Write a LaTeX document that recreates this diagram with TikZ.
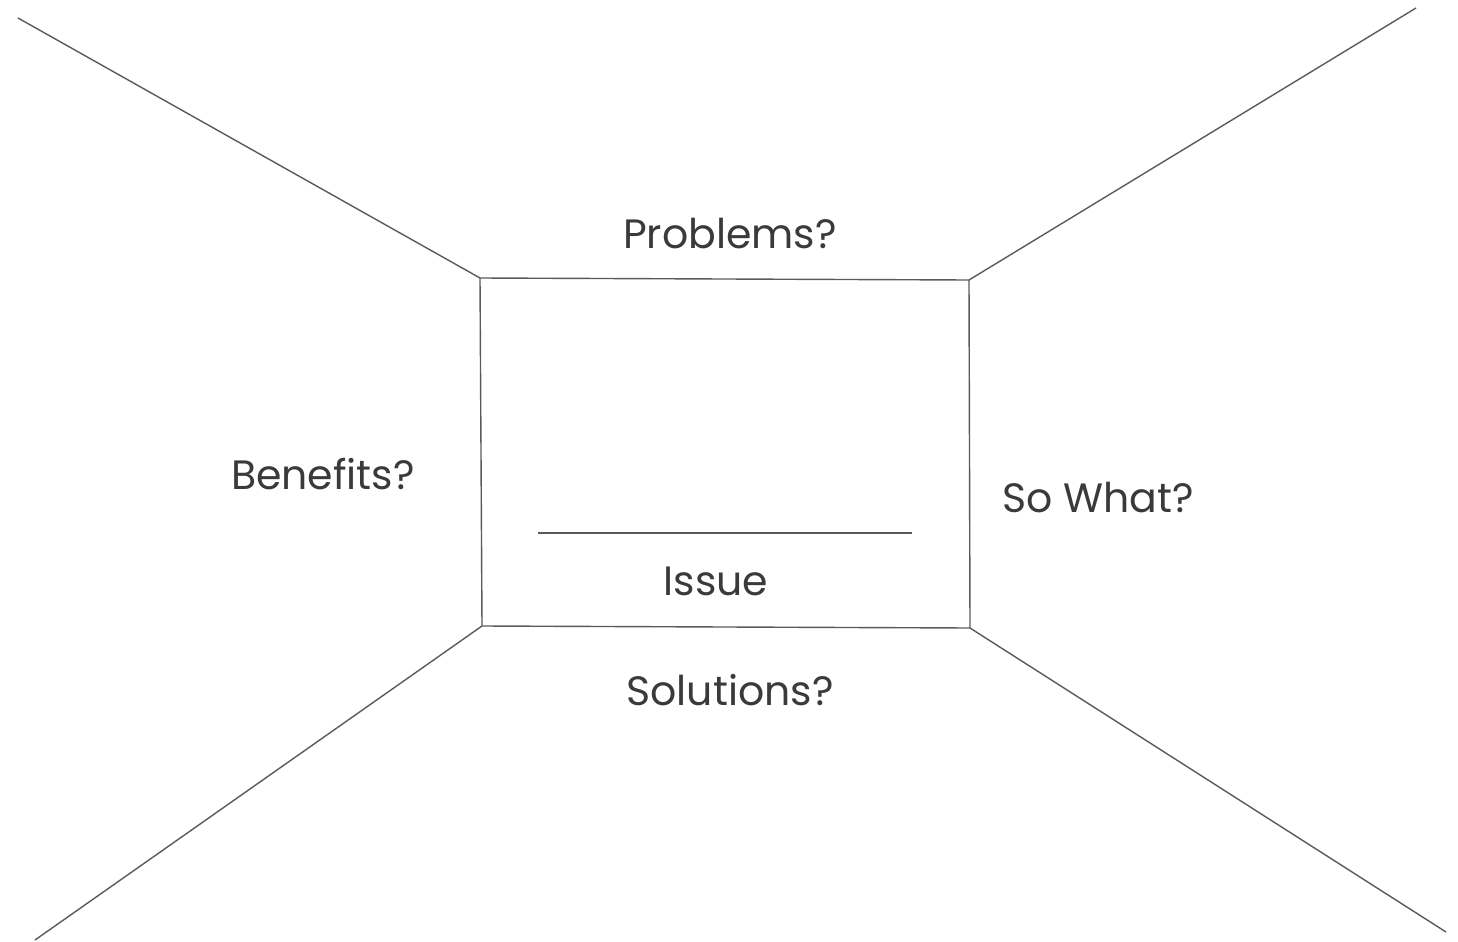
\documentclass[tikz,border=0pt]{standalone}
\usepackage{fontspec}
\setmainfont{Poppins}
\definecolor{inkgray}{HTML}{3A3A3A}
\definecolor{linegray}{HTML}{5A5A5A}

\begin{document}
\begin{tikzpicture}[x=0.5pt,y=-0.5pt]

      \useasboundingbox (0,0) rectangle (1458,942);

      \begin{scope}
        \coordinate (tl) at (480,278);
        \coordinate (tr) at (969,280);
        \coordinate (br) at (970,628);
        \coordinate (bl) at (482,626);
        \coordinate (otl) at (18,18);
        \coordinate (otr) at (1416,8);
        \coordinate (obr) at (1446,932);
        \coordinate (obl) at (35,940);
        \coordinate (ul) at (538,533);
        \coordinate (ur) at (912,533);
      \end{scope}

      \begin{scope}[every path/.style={draw=linegray, line width=0.7pt}]
        \path (tl) -- (tr) -- (br) -- (bl) -- cycle;
        \path (otl) -- (tl);
        \path (otr) -- (tr);
        \path (obr) -- (br);
        \path (obl) -- (bl);
        \path (ul)  -- (ur);
      \end{scope}

      \begin{scope}[every node/.style={text=inkgray, font=\fontsize{20.5}{24}\selectfont, inner sep=0pt}]
        \node (problems)  at (730,234) {Problems?};
        \node (benefits)  at (323,474) {Benefits?};
        \node (sowhat)    at (1098,498) {So What?};
        \node (issue)     at (716,581) {Issue};
        \node (solutions) at (730,690) {Solutions?};
      \end{scope}

    \end{tikzpicture}
\end{document}
